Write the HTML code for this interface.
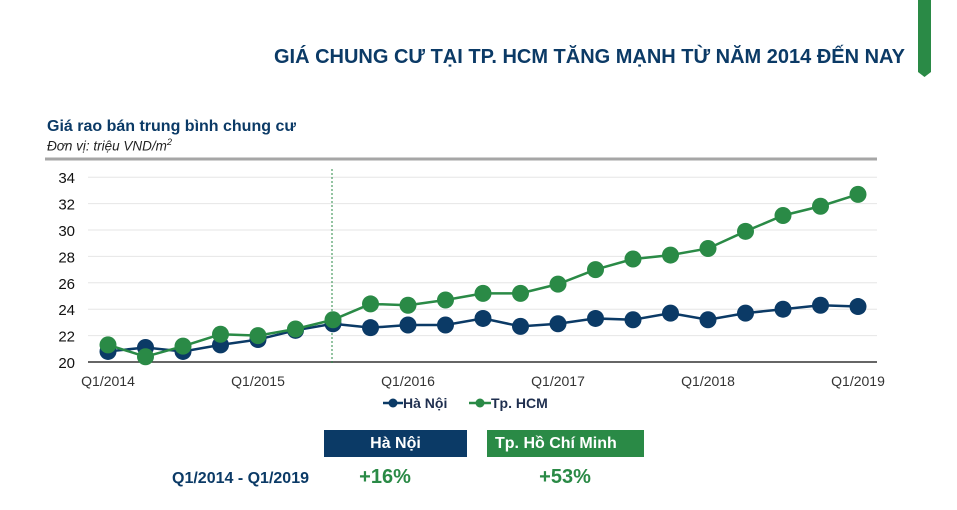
<!DOCTYPE html>
<html><head><meta charset="utf-8"><style>
body{margin:0;width:957px;height:510px;background:#fff;position:relative;overflow:hidden;font-family:"Liberation Sans",sans-serif}
.a{position:absolute;white-space:nowrap}
</style></head><body>
<div class="a" style="right:52px;top:46px;font-size:20px;font-weight:bold;color:#0b3a66">GIÁ CHUNG CƯ TẠI TP. HCM TĂNG MẠNH TỪ NĂM 2014 ĐẾN NAY</div>
<svg class="a" style="left:918px;top:0" width="14" height="80"><polygon points="0,0 13,0 13,72 6.5,77 0,72" fill="#2a8a46"/></svg>
<div class="a" style="left:47px;top:118px;font-size:16px;font-weight:bold;color:#0b3a66">Giá rao bán trung bình chung cư</div>
<div class="a" style="left:47px;top:137px;font-size:13.5px;font-style:italic;color:#222">Đơn vị: triệu VND/m<sup style="font-size:9px">2</sup></div>
<svg id="chart" class="a" style="left:0;top:0" width="957" height="420"></svg>
<div class="a" style="left:383px;top:395px;font-size:14px;font-weight:bold;color:#1f2f4f"><svg width="20" height="12" style="vertical-align:-1px"><line x1="0" y1="6" x2="20" y2="6" stroke="#0b3a66" stroke-width="2.5"/><circle cx="10" cy="6" r="4.5" fill="#0b3a66"/></svg>Hà Nội</div>
<div class="a" style="left:469px;top:395px;font-size:14px;font-weight:bold;color:#1f2f4f"><svg width="22" height="12" style="vertical-align:-1px"><line x1="0" y1="6" x2="22" y2="6" stroke="#2a8a46" stroke-width="2.5"/><circle cx="11" cy="6" r="4.5" fill="#2a8a46"/></svg>Tp. HCM</div>
<div class="a" style="left:324px;top:430px;width:143px;height:27px;background:#0b3a66;color:#fff;font-size:16px;font-weight:bold;text-align:center;line-height:27px">Hà Nội</div>
<div class="a" style="left:487px;top:430px;width:157px;height:27px;background:#2a8a46;color:#fff;font-size:16px;font-weight:bold;line-height:27px;box-sizing:border-box;padding-left:8px">Tp. Hồ Chí Minh</div>
<div class="a" style="left:172px;top:470px;font-size:16px;font-weight:bold;color:#0b3a66">Q1/2014 - Q1/2019</div>
<div class="a" style="left:335px;width:100px;text-align:center;top:466px;font-size:20px;font-weight:bold;color:#2a8a46">+16%</div>
<div class="a" style="left:515px;width:100px;text-align:center;top:466px;font-size:20px;font-weight:bold;color:#2a8a46">+53%</div>
<script>
const categories=["Q1/2014","Q2/2014","Q3/2014","Q4/2014","Q1/2015","Q2/2015","Q3/2015","Q4/2015","Q1/2016","Q2/2016","Q3/2016","Q4/2016","Q1/2017","Q2/2017","Q3/2017","Q4/2017","Q1/2018","Q2/2018","Q3/2018","Q4/2018","Q1/2019"];
const haNoi=[20.8,21.1,20.8,21.3,21.7,22.4,22.9,22.6,22.8,22.8,23.3,22.7,22.9,23.3,23.2,23.7,23.2,23.7,24.0,24.3,24.2];
const hcm=[21.3,20.4,21.2,22.1,22.0,22.5,23.2,24.4,24.3,24.7,25.2,25.2,25.9,27.0,27.8,28.1,28.6,29.9,31.1,31.8,32.7];
const yTicks=[20,22,24,26,28,30,32,34];
const xLabelIdx=[0,4,8,12,16,20];
const markerIdx=6;
const svg=document.getElementById('chart');
const NS='http://www.w3.org/2000/svg';
const X0=108,DX=37.5,Y0=362,PY=13.2;
const xs=i=>X0+i*DX, ys=v=>Y0-(v-20)*PY;
function mk(t,a){const e=document.createElementNS(NS,t);for(const k in a)e.setAttribute(k,a[k]);svg.appendChild(e);return e;}
let e=mk('line',{x1:45,x2:877,y1:159,y2:159,stroke:'#a6a6a6','stroke-width':3});


yTicks.forEach(v=>{
 if(v>20){const g=mk('line',{x1:88,x2:877,y1:ys(v),y2:ys(v),stroke:'#e6e6e6','stroke-width':1});
 
 }
 const t=mk('text',{x:75,y:ys(v)+6,'text-anchor':'end','font-size':15,fill:'#111','font-family':'Liberation Sans'});t.textContent=v;
 
 
});
e=mk('line',{x1:88,x2:877,y1:Y0,y2:Y0,stroke:'#333','stroke-width':1.5});


xLabelIdx.forEach(i=>{const t=mk('text',{x:xs(i),y:386,'text-anchor':'middle','font-size':14,fill:'#333','font-family':'Liberation Sans'});t.textContent=categories[i];
 
 });
e=mk('line',{x1:xs(markerIdx)-1,x2:xs(markerIdx)-1,y1:169,y2:365,stroke:'#2a8a46','stroke-width':1,'stroke-dasharray':'2,2'});


function series(d,c,n){
 const p=mk('polyline',{points:d.map((v,i)=>xs(i)+','+ys(v)).join(' '),fill:'none',stroke:c,'stroke-width':2.5});
 
 
 d.forEach((v,i)=>{const m=mk('circle',{cx:xs(i),cy:ys(v),r:8.5,fill:c});
 
 });
}
series(haNoi,'#0b3a66','ha-noi');
series(hcm,'#2a8a46','hcm');
</script>
</body></html>
